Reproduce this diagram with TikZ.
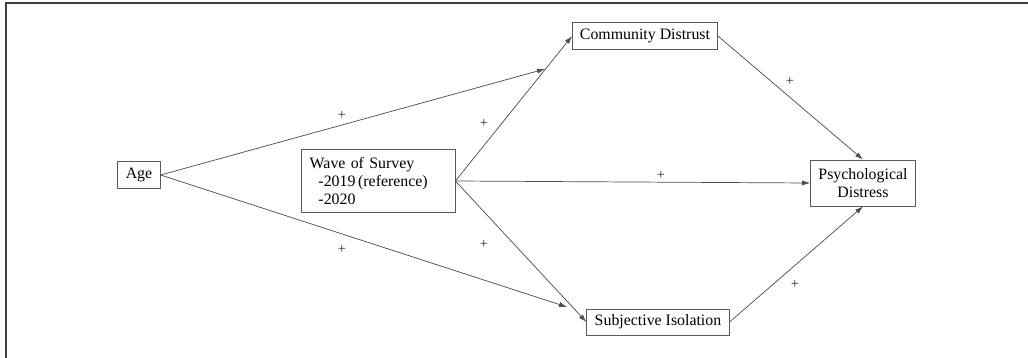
\documentclass[tikz,border=0pt]{standalone}
\usepackage{fontspec}
\setmainfont{Liberation Serif}
\usetikzlibrary{positioning, arrows.meta}

\tikzset{
    var/.style={draw=black!65, line width=0.5pt, inner xsep=5pt, inner ysep=2pt,
        minimum height=17pt, font=\fontsize{10}{11.5}\selectfont},
    link/.style={draw=black!70, line width=0.45pt, -{Latex[length=5pt,width=3.2pt]}},
    sign/.style={inner sep=0pt, font=\small, text=black!85},
    frame/.style={draw=black!75, line width=1.1pt}
}

\begin{document}
\begin{tikzpicture}[x=0.63pt, y=-0.63pt]
        \useasboundingbox (0, 0) rectangle (1028, 358);
        \draw[frame] (1030, 3) -- (6, 3) -- (6, 360);

        \node[var] (age) at (139, 175) {Age};
        \node[var, text width=86pt, align=left, inner xsep=5.5pt, minimum height=40pt] (wave) at (378, 181) {Wave of Survey\\
            \hspace*{0.55em}-2019\,(reference)\\
            \hspace*{0.55em}-2020};
        \node[var, inner xsep=4.7pt] (distrust) at (645, 36) {Community Distrust};
        \node[var, minimum height=16.5pt] (isolation) at (658, 322) {Subjective Isolation};
        \node[var, align=center, minimum height=29pt] (distress) at (863, 183) {Psychological\\Distress};

        \coordinate (distrustEnd) at (545, 69);
        \coordinate (isolationEnd) at (567, 307);

        \draw[link] (age.east) -- (distrustEnd);
        \draw[link] (age.east) -- (isolationEnd);
        \draw[link] (wave.east) -- (distrust.west);
        \draw[link] (wave.east) -- (isolation.west);
        \draw[link] (wave.east) -- (distress.west);
        \draw[link] (distrust.east) -- (distress.north);
        \draw[link] (isolation.east) -- (distress.south);

        \node[sign] (signAgeDistrust) at (342, 115) {+};
        \node[sign] (signAgeIsolation) at (342, 249) {+};
        \node[sign] (signWaveDistrust) at (484, 123) {+};
        \node[sign] (signWaveIsolation) at (484, 244) {+};
        \node[sign] (signWaveDistress) at (661, 175) {+};
        \node[sign] (signDistrustDistress) at (790, 81) {+};
        \node[sign] (signIsolationDistress) at (795, 284) {+};
    \end{tikzpicture}
\end{document}
